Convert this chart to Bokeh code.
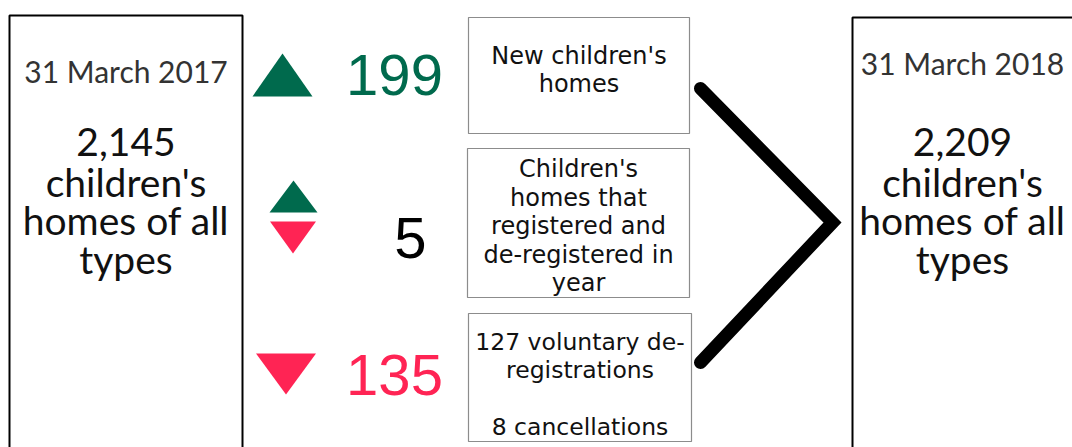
from bokeh.plotting import figure
from bokeh.models import Range1d
from bokeh.core.properties import value
from bokeh.embed import file_html
from bokeh.resources import INLINE

# ---------------- data ----------------
period_labels = ["31 March 2017", "31 March 2018"]
period_totals = [2145, 2209]
total_caption = ["children's", "homes of all", "types"]

change_values = [199, 5, 135]
change_captions = [
    ["New children's", "homes"],
    ["Children's", "homes that", "registered and", "de-registered in", "year"],
]
voluntary_deregistrations = 127
cancellations = 8

# ---------------- styles ----------------
GREEN = "#006a4d"
RED = "#ff2454"
DATE_GREY = "#333333"

W, H = 1072, 447
p = figure(width=W, height=H, output_backend="svg", toolbar_location=None,
           x_range=Range1d(0, W), y_range=Range1d(H, 0),
           min_border=0, outline_line_color=None, background_fill_color="white")
p.axis.visible = False
p.grid.visible = False

# ---------------- layout ----------------
big_boxes = [(9, 242, 15, 470), (852, 1100, 17, 470)]
big_text_x = [125.5, 962]
date_y = [70, 62]
total_y = [141, 181, 219, 258]

for (x0, x1, y0, y1) in big_boxes:
    p.line([x0, x0, x1, x1, x0], [y1, y0, y0, y1, y1], line_color="black", line_width=2)

for i in range(2):
    p.text([big_text_x[i]], [date_y[i]], text=[period_labels[i]], text_font=value("Lato"),
           text_font_size="30px", text_color=DATE_GREY, text_align="center", text_baseline="middle")
    lines = [f"{period_totals[i]:,}"] + total_caption
    p.text([big_text_x[i]] * len(lines), total_y, text=lines, text_font=value("Lato"),
           text_font_size="39px", text_color="#111111", text_align="center", text_baseline="middle")

# small boxes
small_boxes = [(468, 689, 17, 133), (467, 689, 148, 297), (468, 691, 313, 441)]
for (x0, x1, y0, y1) in small_boxes:
    p.quad(left=[x0], right=[x1], top=[y0], bottom=[y1], fill_color="white",
           line_color="#8c8c8c", line_width=1.2)

box_cx = [578.5, 578, 579.5]
box_line_y = [[55, 83], [168, 197, 225, 254, 282], [341, 369, 426]]
box_font = ["24px", "24px", "23.5px"]
captions = change_captions + [[f"{voluntary_deregistrations} voluntary de-", "registrations",
                               f"{cancellations} cancellations"]]
for i in range(3):
    n = len(captions[i])
    p.text([box_cx[i]] * n, box_line_y[i], text=captions[i], text_font=value("DejaVu Sans"),
           text_font_size=box_font[i], text_color="#111111", text_align="center",
           text_baseline="middle")

# numbers
num_x = [394, 410, 394]
num_y = [74, 237, 374]
num_colors = [GREEN, "black", RED]
for i in range(3):
    p.text([num_x[i]], [num_y[i]], text=[str(change_values[i])], text_font=value("Liberation Sans"),
           text_font_size="58px", text_color=num_colors[i], text_align="center", text_baseline="middle")

# triangles: (kind, cx, top, bottom, half width, colour)
tri_specs = [("up", 282, 53, 96, 30, GREEN),
             ("up", 293, 180, 212, 24, GREEN),
             ("down", 292.5, 221, 253, 23, RED),
             ("down", 285.5, 353, 394, 30, RED)]
xs, ys, cols = [], [], []
for kind, cx, top, bot, hw, col in tri_specs:
    xs.append([cx - hw, cx + hw, cx])
    ys.append([bot, bot, top] if kind == "up" else [top, top, bot])
    cols.append(col)
p.patches(xs, ys, fill_color=cols, line_color=None)

# chevron
p.line([700, 832, 700], [88, 222, 362], line_color="black", line_width=13,
       line_cap="round", line_join="miter")

open("out.html", "w").write(file_html(p, INLINE))
